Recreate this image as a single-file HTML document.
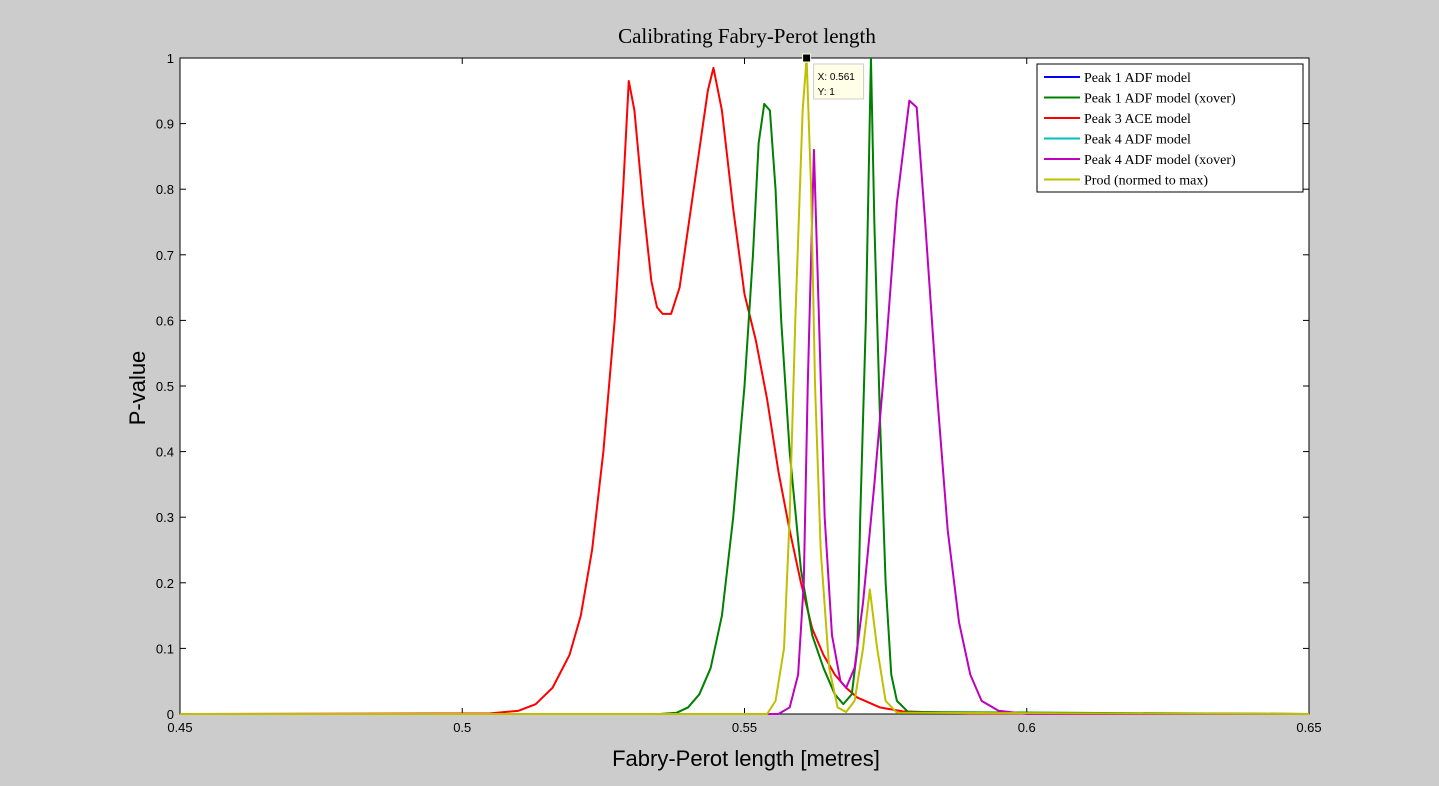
<!DOCTYPE html>
<html><head><meta charset="utf-8"><style>
body{margin:0;background:#cccccc;}
svg{display:block;}
</style></head><body>
<svg id="chart" width="1439" height="786" xmlns="http://www.w3.org/2000/svg" font-family="Liberation Sans, sans-serif">
<rect width="1439" height="786" fill="#cccccc"/>
<rect x="180" y="58" width="1129" height="656" fill="#fff" stroke="#000" stroke-width="1"/>
<text x="747" y="43" text-anchor="middle" font-family="Liberation Serif, serif" font-size="21">Calibrating Fabry-Perot length</text>
<text x="746" y="766" text-anchor="middle" font-size="22">Fabry-Perot length [metres]</text>
<text transform="translate(145,388) rotate(-90)" text-anchor="middle" font-size="22">P-value</text>
<g id="axes"></g>
<g id="series"></g>
<g id="overlay"></g>
</svg>
<script>
const xTicks=[0.45,0.5,0.55,0.6,0.65];
const xTickLabels=["0.45","0.5","0.55","0.6","0.65"];
const yTicks=[0,0.1,0.2,0.3,0.4,0.5,0.6,0.7,0.8,0.9,1];
const yTickLabels=["0","0.1","0.2","0.3","0.4","0.5","0.6","0.7","0.8","0.9","1"];
const redX=[0.45,0.505,0.51,0.513,0.516,0.519,0.521,0.523,0.525,0.527,0.5285,0.5295,0.5305,0.532,0.5335,0.5345,0.5355,0.537,0.5385,0.54,0.5415,0.5435,0.5445,0.546,0.548,0.55,0.552,0.554,0.556,0.558,0.56,0.562,0.564,0.566,0.568,0.57,0.574,0.578,0.59,0.65];
const redY=[0,0.001,0.005,0.015,0.04,0.09,0.15,0.25,0.4,0.6,0.8,0.965,0.92,0.78,0.66,0.62,0.61,0.61,0.65,0.74,0.83,0.95,0.985,0.92,0.77,0.64,0.57,0.48,0.37,0.28,0.2,0.13,0.09,0.06,0.04,0.025,0.01,0.004,0.001,0];
const greenX=[0.45,0.535,0.538,0.54,0.542,0.544,0.546,0.548,0.55,0.5515,0.5525,0.5535,0.5545,0.5555,0.5565,0.558,0.56,0.562,0.564,0.566,0.5675,0.569,0.57,0.5705,0.5715,0.5724,0.573,0.574,0.575,0.576,0.577,0.579,0.65];
const greenY=[0,0,0.002,0.01,0.03,0.07,0.15,0.3,0.5,0.7,0.87,0.93,0.92,0.8,0.6,0.4,0.22,0.12,0.07,0.03,0.015,0.03,0.1,0.3,0.6,1.0,0.75,0.45,0.2,0.06,0.02,0.003,0];
const magX=[0.45,0.556,0.558,0.5595,0.5605,0.5612,0.5623,0.5632,0.5642,0.5655,0.567,0.568,0.5695,0.571,0.573,0.575,0.577,0.5792,0.5805,0.582,0.584,0.586,0.588,0.59,0.592,0.595,0.6,0.65];
const magY=[0,0,0.01,0.06,0.2,0.5,0.86,0.6,0.3,0.12,0.05,0.04,0.07,0.17,0.35,0.55,0.78,0.935,0.925,0.75,0.5,0.28,0.14,0.06,0.02,0.005,0,0];
const yelX=[0.45,0.554,0.5555,0.557,0.558,0.559,0.5603,0.561,0.5618,0.5625,0.5635,0.565,0.5665,0.568,0.5695,0.571,0.5722,0.5735,0.575,0.577,0.65];
const yelY=[0,0,0.02,0.1,0.3,0.6,0.92,1.0,0.8,0.5,0.25,0.07,0.01,0.003,0.02,0.1,0.19,0.1,0.02,0.002,0];
const legendLabels=["Peak 1 ADF model","Peak 1 ADF model (xover)","Peak 3 ACE model","Peak 4 ADF model","Peak 4 ADF model (xover)","Prod (normed to max)"];
const legendColors=["#0000ff","#008000","#ff0000","#00bfbf","#bf00bf","#bfbf00"];

const NS="http://www.w3.org/2000/svg";
const X0=180,X1=1309,Y0=714,Y1=58;
function sx(v){return X0+(v-0.45)/0.2*(X1-X0);}
function sy(v){return Y0-v*(Y0-Y1);}
function mk(tag,attrs,parent){const e=document.createElementNS(NS,tag);for(const k in attrs)e.setAttribute(k,attrs[k]);parent.appendChild(e);return e;}
const axes=document.getElementById('axes');
xTicks.forEach((t,i)=>{
  const l=mk('line',{x1:sx(t),x2:sx(t),y1:Y0,y2:Y0-6,stroke:'#000'},axes);
  
  
  const l2=mk('line',{x1:sx(t),x2:sx(t),y1:Y1,y2:Y1+6,stroke:'#000'},axes);
  
  
  const tx=mk('text',{x:sx(t),y:Y0+18,'text-anchor':'middle','font-size':13},axes);
  tx.textContent=xTickLabels[i];
  
  
});
yTicks.forEach((t,i)=>{
  const l=mk('line',{x1:X0,x2:X0+6,y1:sy(t),y2:sy(t),stroke:'#000'},axes);
  
  
  const l2=mk('line',{x1:X1,x2:X1-6,y1:sy(t),y2:sy(t),stroke:'#000'},axes);
  
  
  const tx=mk('text',{x:X0-6,y:sy(t)+5,'text-anchor':'end','font-size':13},axes);
  tx.textContent=yTickLabels[i];
  
  
});
const series=document.getElementById('series');
function line(xs,ys,color,name){
  const p=mk('polyline',{points:xs.map((x,i)=>sx(x)+','+sy(ys[i])).join(' '),fill:'none',stroke:color,'stroke-width':2,'stroke-linejoin':'round'},series);
  
  
}
line(redX,redY,'#ff0000','peak3-ace-line');
line(greenX,greenY,'#008000','peak1-adf-xover-line');
line(magX,magY,'#bf00bf','peak4-adf-xover-line');
line(yelX,yelY,'#bfbf00','prod-line');
const ov=document.getElementById('overlay');
// legend
const lg=mk('g',{},ov);


mk('rect',{x:1037,y:64,width:266,height:128,fill:'#fff',stroke:'#000'},lg);
legendLabels.forEach((s,i)=>{
  const y=77+i*20.5;
  const e=mk('g',{},lg);
  
  
  mk('line',{x1:1044,x2:1080,y1:y,y2:y,stroke:legendColors[i],'stroke-width':2},e);
  const t=mk('text',{x:1084,y:y+5,'font-family':'Liberation Serif, serif','font-size':14},e);
  t.textContent=s;
});
// data tip
const tip=mk('g',{},ov);


mk('rect',{x:sx(0.561)-4,y:sy(1)-4,width:8,height:8,fill:'#000',stroke:'#ffffe0'},tip);
mk('rect',{x:sx(0.561)+7,y:sy(1)+6,width:50,height:35,fill:'#ffffe8',stroke:'#ccc'},tip);
const t1=mk('text',{x:sx(0.561)+11,y:sy(1)+22,'font-size':10},tip);t1.textContent='X: 0.561';
const t2=mk('text',{x:sx(0.561)+11,y:sy(1)+37,'font-size':10},tip);t2.textContent='Y: 1';
</script>
</body></html>
